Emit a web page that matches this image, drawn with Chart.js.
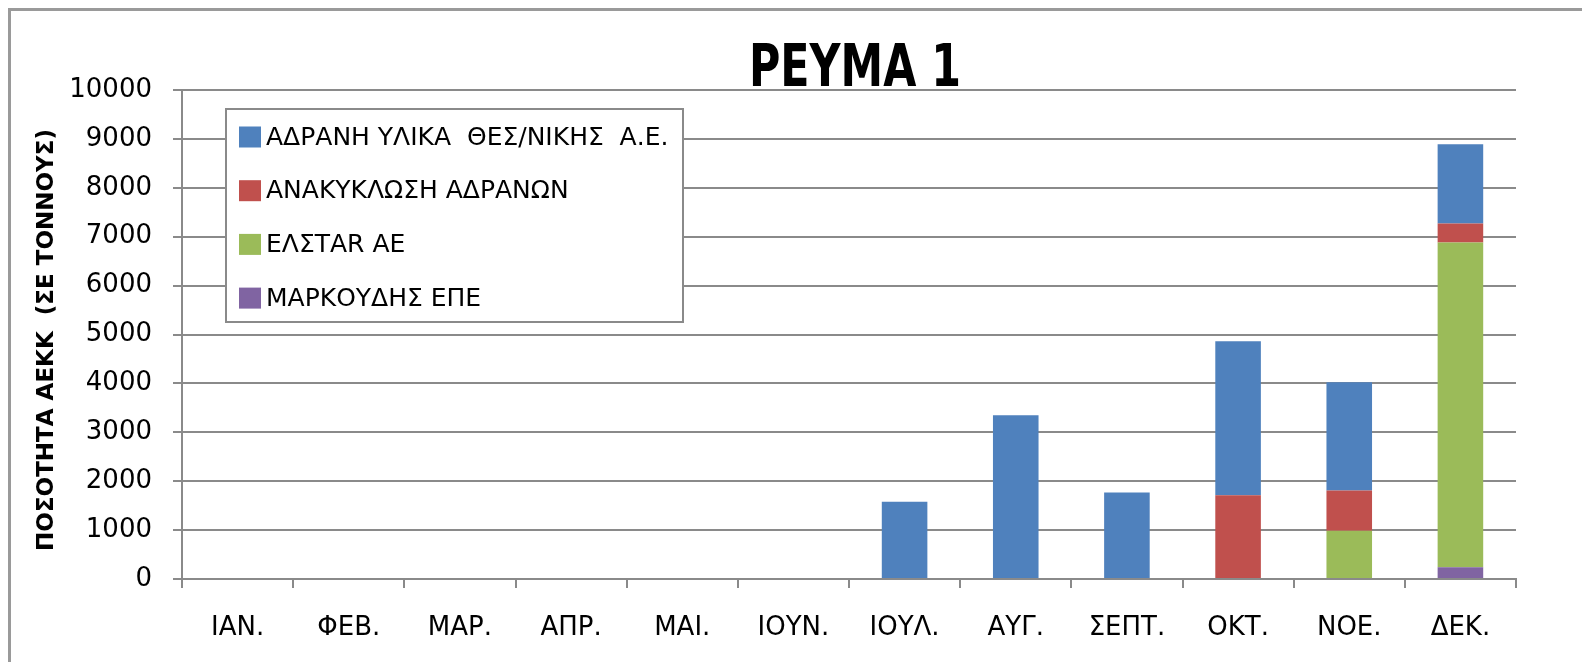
<!DOCTYPE html>
<html>
<head>
<meta charset="utf-8">
<script src="https://cdn.jsdelivr.net/npm/chart.js@4.4.1/dist/chart.umd.min.js"></script>
<style>
  html, body { margin: 0; padding: 0; background: #fff; }
  #wrap { position: relative; width: 1582px; height: 662px; overflow: hidden; }
  #frame { position: absolute; left: 8px; top: 8px; width: 1600px; height: 700px;
           border-left: 3px solid #9a9a9a; border-top: 3px solid #9a9a9a; box-sizing: border-box; pointer-events: none; }
  canvas { position: absolute; left: 0; top: 0; }
</style>
</head>
<body>
<div id="wrap">
  <canvas id="c" width="1582" height="662"></canvas>
  <div id="frame"></div>
</div>
<script>
const chartTitle = 'ΡΕΥΜΑ 1';
const yAxisTitle = 'ΠΟΣΟΤΗΤΑ ΑΕΚΚ  (ΣΕ ΤΟΝΝΟΥΣ)';
const categories = ['ΙΑΝ.', 'ΦΕΒ.', 'ΜΑΡ.', 'ΑΠΡ.', 'ΜΑΙ.', 'ΙΟΥΝ.', 'ΙΟΥΛ.', 'ΑΥΓ.', 'ΣΕΠΤ.', 'ΟΚΤ.', 'ΝΟΕ.', 'ΔΕΚ.'];
const seriesNames = ['ΑΔΡΑΝΗ ΥΛΙΚΑ  ΘΕΣ/ΝΙΚΗΣ  Α.Ε.', 'ΑΝΑΚΥΚΛΩΣΗ ΑΔΡΑΝΩΝ', 'ΕΛΣΤAR ΑΕ', 'ΜΑΡΚΟΥΔΗΣ ΕΠΕ'];
const adraniValues     = [0, 0, 0, 0, 0, 0, 1580, 3350, 1770, 3145, 2215, 1620];
const anakyklosiValues = [0, 0, 0, 0, 0, 0, 0, 0, 0, 1715, 825, 390];
const elstarValues     = [0, 0, 0, 0, 0, 0, 0, 0, 0, 0, 985, 6640];
const markoudisValues  = [0, 0, 0, 0, 0, 0, 0, 0, 0, 0, 0, 240];
const yTicks = [0, 1000, 2000, 3000, 4000, 5000, 6000, 7000, 8000, 9000, 10000];
const seriesColors = ['#4F81BD', '#C0504D', '#9BBB59', '#8064A2'];

const GRID = '#8a8a8a';
const FONT = "'DejaVu Sans', 'Open Sans', sans-serif";

// stacking order bottom -> top: markoudis, elstar, anakyklosi, adrani
const datasets = [
  { label: seriesNames[3], data: markoudisValues, backgroundColor: seriesColors[3], legendIndex: 3 },
  { label: seriesNames[2], data: elstarValues, backgroundColor: seriesColors[2], legendIndex: 2 },
  { label: seriesNames[1], data: anakyklosiValues, backgroundColor: seriesColors[1], legendIndex: 1 },
  { label: seriesNames[0], data: adraniValues, backgroundColor: seriesColors[0], legendIndex: 0 }
].map(d => Object.assign(d, { borderWidth: 0, categoryPercentage: 1.0, barPercentage: 0.41 }));

const overlayPlugin = {
  id: 'overlay',
  afterDraw(chart) {
    const ctx = chart.ctx;
    ctx.save();
    // Title (horizontally condensed to match the narrow original face)
    ctx.fillStyle = '#000';
    ctx.font = "bold 59px 'DejaVu Sans', sans-serif";
    ctx.textAlign = 'center';
    ctx.textBaseline = 'middle';
    const tw = ctx.measureText(chartTitle).width;
    const sx = 212 / tw;
    ctx.save();
    ctx.translate(855, 71);
    ctx.scale(sx, 1);
    ctx.fillText(chartTitle, 0, 0);
    ctx.restore();

    // Y axis title
    ctx.save();
    ctx.font = "bold 23px 'DejaVu Sans', sans-serif";
    ctx.translate(47, 340);
    ctx.rotate(-Math.PI / 2);
    ctx.textAlign = 'center';
    ctx.textBaseline = 'middle';
    ctx.fillText(yAxisTitle, 0, 0);
    ctx.restore();

    // Legend box
    const bx = 226, by = 109, bw = 457, bh = 213;
    ctx.fillStyle = '#fff';
    ctx.fillRect(bx, by, bw, bh);
    ctx.strokeStyle = GRID;
    ctx.lineWidth = 2;
    ctx.strokeRect(bx, by, bw, bh);
    const items = chart.data.datasets.slice().sort((a, b) => a.legendIndex - b.legendIndex);
    ctx.font = "25px " + FONT;
    ctx.textAlign = 'left';
    ctx.textBaseline = 'middle';
    items.forEach((ds, i) => {
      const cy = 137 + i * 53.7;
      ctx.fillStyle = ds.backgroundColor;
      ctx.fillRect(239, cy - 10.5, 22, 21);
      ctx.fillStyle = '#000';
      ctx.fillText(ds.label, 266, cy + 1);
    });
    ctx.restore();
  }
};

new Chart(document.getElementById('c'), {
  type: 'bar',
  data: { labels: categories, datasets },
  options: {
    responsive: false,
    animation: false,
    layout: { padding: { top: 90, right: 66, bottom: 0, left: 0 } },
    plugins: { legend: { display: false }, title: { display: false }, tooltip: { enabled: false } },
    scales: {
      x: {
        stacked: true,
        grid: { display: true, drawOnChartArea: false, drawTicks: true, tickLength: 9, color: GRID, lineWidth: 2, offset: true },
        border: { display: true, color: GRID, width: 2 },
        ticks: { color: '#000', font: { family: FONT, size: 26 }, padding: 25, maxRotation: 0, autoSkip: false },
        afterFit(scale) { scale.height = 83; }
      },
      y: {
        stacked: true,
        min: 0, max: 10000,
        afterBuildTicks(scale) { scale.ticks = yTicks.map(v => ({ value: v })); },
        grid: { color: GRID, lineWidth: 2, tickLength: 9, drawTicks: true },
        border: { display: true, color: GRID, width: 2 },
        ticks: { color: '#000', font: { family: FONT, size: 26 }, padding: 21, callback: v => String(v) },
        title: { display: false },
        afterFit(scale) { scale.width = 182; }
      }
    }
  },
  plugins: [overlayPlugin]
});
</script>
</body>
</html>
